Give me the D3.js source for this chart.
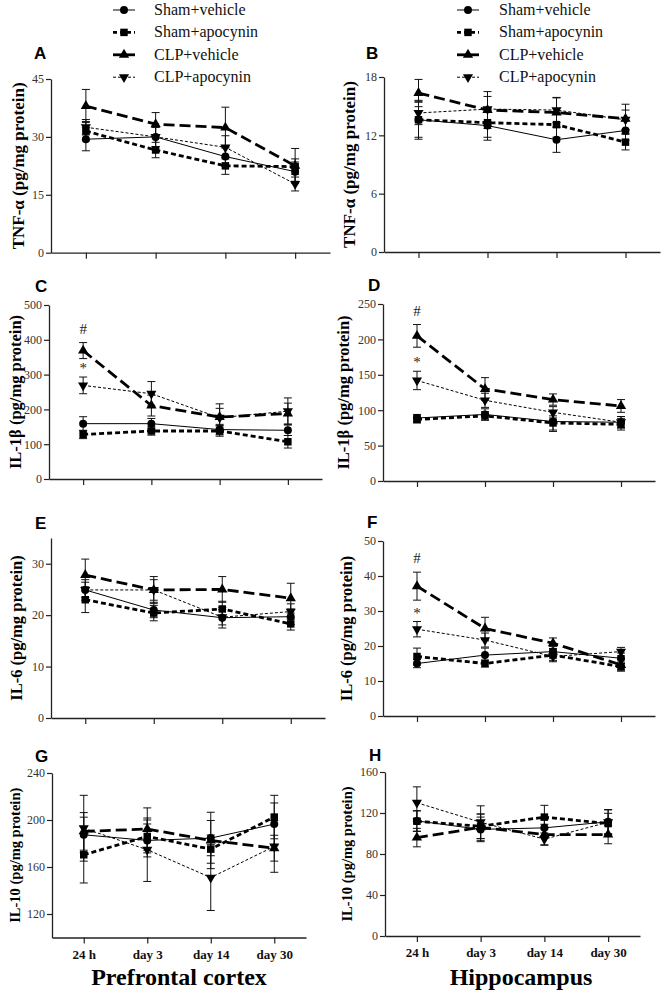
<!DOCTYPE html>
<html>
<head>
<meta charset="utf-8">
<script src="https://cdn.jsdelivr.net/npm/d3@7"></script>
<style>
body { margin: 0; background: #fff; }
svg { display: block; font-family: "Liberation Serif", "Times New Roman", serif; }
</style>
</head>
<body>
<div id="chart"></div>
<script>
// groups and time points
var groups = ["Sham+vehicle", "Sham+apocynin", "CLP+vehicle", "CLP+apocynin"];
var timepoints = ["24 h", "day 3", "day 14", "day 30"];

// A  TNF-a prefrontal cortex
var tnfPfcMean = [[29.4, 30, 24.9, 21], [31.5, 26.6, 22.5, 22.3], [38, 33.3, 32.4, 22.5], [32.5, 30, 27.3, 17.8]];
var tnfPfcErr  = [[3, 2.5, 2.5, 2.5], [2.5, 2, 2.2, 2], [4.3, 3, 5.3, 4.5], [2, 2.5, 3, 1.8]];
var tnfPfcTicks = [0, 15, 30, 45];
// B  TNF-a hippocampus
var tnfHipMean = [[13.6, 13, 11.55, 12.5], [13.6, 13.3, 13.1, 11.3], [16.35, 14.6, 14.35, 13.7], [14.3, 14.7, 14.6, 13.6]];
var tnfHipErr  = [[2, 1.5, 1.3, 1], [1.8, 1.5, 1.3, 0.8], [1.4, 1.9, 1.5, 1.5], [1.2, 1.3, 1.3, 1]];
var tnfHipTicks = [0, 6, 12, 18];
// C  IL-1b prefrontal cortex
var il1PfcMean = [[159, 159, 142, 140], [128, 138, 138, 107], [369, 211, 178, 188], [269, 245, 176, 195]];
var il1PfcErr  = [[20, 15, 15, 15], [12, 12, 15, 18], [23, 30, 25, 30], [24, 35, 40, 38]];
var il1PfcTicks = [0, 100, 200, 300, 400, 500];
// D  IL-1b hippocampus
var il1HipMean = [[89, 94, 84, 83], [87, 92, 82, 80], [205, 130, 115, 106], [142, 114, 97, 83]];
var il1HipErr  = [[5, 8, 14, 8], [5, 6, 10, 8], [16, 16, 8, 9], [13, 10, 8, 8]];
var il1HipTicks = [0, 50, 100, 150, 200, 250];
// E  IL-6 prefrontal cortex
var il6PfcMean = [[24.9, 21, 19.5, 19.7], [23, 20.4, 21.2, 18.3], [27.8, 24.9, 25, 23.3], [24.9, 24.9, 19.6, 20.7]];
var il6PfcErr  = [[2, 1.5, 2, 1.5], [2.5, 1.5, 1.5, 1.2], [3.1, 2.6, 2.5, 2.9], [1.5, 2, 1.5, 1.5]];
var il6PfcTicks = [0, 10, 20, 30];
// F  IL-6 hippocampus
var il6HipMean = [[15, 17.4, 18.4, 16.5], [17, 15, 17.4, 14.1], [37.1, 25, 20.8, 14.6], [24.8, 21.7, 17, 18.4]];
var il6HipErr  = [[1.2, 2, 1.5, 1.5], [2.4, 1, 1.5, 1.3], [4, 3.2, 1.5, 1.5], [2.2, 2, 1.5, 1.2]];
var il6HipTicks = [0, 10, 20, 30, 40, 50];
// G  IL-10 prefrontal cortex
var il10PfcMean = [[187.4, 182.6, 184.6, 196.5], [170.4, 186, 175.2, 202.5], [190.3, 192.3, 182.6, 176], [193, 174.7, 151, 177.5]];
var il10PfcErr  = [[15, 14, 15, 18], [24, 14, 12, 18.5], [16, 18, 24, 11], [28, 27, 28, 22]];
var il10PfcTicks = [120, 160, 200, 240];
// H  IL-10 hippocampus
var il10HipMean = [[112.3, 104, 105.5, 111.4], [112, 107, 116, 109.7], [96, 106, 99, 99], [130, 111, 94.5, 111]];
var il10HipErr  = [[10, 12, 8, 12], [10, 12, 11.5, 10], [9, 13, 10, 9], [15.5, 16, 6, 12]];
var il10HipTicks = [0, 40, 80, 120, 160];

var width = 665, height = 992;
var serif = "\"Liberation Serif\", \"Times New Roman\", serif";
var sans = "\"Liberation Sans\", Arial, sans-serif";

// line styles per group
var styles = [
    { width: 1, dash: null, symbol: d3.symbolCircle, size: 50, rot: 0 },
    { width: 2.8, dash: "5,3", symbol: d3.symbolSquare, size: 56, rot: 0 },
    { width: 2.8, dash: "11,5", symbol: d3.symbolTriangle, size: 46, rot: 0 },
    { width: 1, dash: "3,2", symbol: d3.symbolTriangle, size: 44, rot: 180 }
];

var panels = [
    { letter: "A", title: "TNF-\u03b1 (pg/mg protein)", mean: tnfPfcMean, err: tnfPfcErr, ticks: tnfPfcTicks, dom: [0, 45],
      x0: 51, x1: 330, yTop: 79, yBot: 252.7, lx: 34, ly: 59, tx: 24, ts: 17 },
    { letter: "B", title: "TNF-\u03b1 (pg/mg protein)", mean: tnfHipMean, err: tnfHipErr, ticks: tnfHipTicks, dom: [0, 18],
      x0: 384, x1: 660, yTop: 77, yBot: 252, lx: 366, ly: 59, tx: 355, ts: 17 },
    { letter: "C", title: "IL-1\u03b2 (pg/mg protein)", mean: il1PfcMean, err: il1PfcErr, ticks: il1PfcTicks, dom: [0, 500],
      x0: 49, x1: 322, yTop: 305, yBot: 479, lx: 35, ly: 292, tx: 21, ts: 16.5, marks: true },
    { letter: "D", title: "IL-1\u03b2 (pg/mg protein)", mean: il1HipMean, err: il1HipErr, ticks: il1HipTicks, dom: [0, 250],
      x0: 383, x1: 655, yTop: 304, yBot: 481, lx: 368, ly: 291, tx: 349, ts: 16.5, marks: true },
    { letter: "E", title: "IL-6 (pg/mg protein)", mean: il6PfcMean, err: il6PfcErr, ticks: il6PfcTicks, dom: [0, 35],
      x0: 51, x1: 325, yTop: 538, yBot: 718, lx: 35, ly: 529, tx: 22, ts: 16.5 },
    { letter: "F", title: "IL-6 (pg/mg protein)", mean: il6HipMean, err: il6HipErr, ticks: il6HipTicks, dom: [0, 50],
      x0: 383, x1: 655, yTop: 541, yBot: 716, lx: 367, ly: 528, tx: 352, ts: 16.5, marks: true },
    { letter: "G", title: "IL-10 (pg/mg protein)", mean: il10PfcMean, err: il10PfcErr, ticks: il10PfcTicks, dom: [100, 240],
      x0: 52, x1: 306, yTop: 773, yBot: 937.5, lx: 35, ly: 762, tx: 20, ts: 14.5, xlabels: true },
    { letter: "H", title: "IL-10 (pg/mg protein)", mean: il10HipMean, err: il10HipErr, ticks: il10HipTicks, dom: [0, 160],
      x0: 385, x1: 640, yTop: 772, yBot: 936, lx: 369, ly: 761, tx: 352, ts: 14.5, xlabels: true }
];

var svg = d3.select("#chart")
    .append("svg")
    .attr("width", width)
    .attr("height", height)
    .style("background", "#fff");

function symbolPath(i) {
    return d3.symbol().type(styles[i].symbol).size(styles[i].size)();
}

panels.forEach(function(p) {
    var g = svg.append("g");

    var x_scale = d3.scalePoint()
        .domain(timepoints)
        .range([p.x0, p.x1])
        .padding(0.5);

    var y_scale = d3.scaleLinear()
        .domain(p.dom)
        .range([p.yBot, p.yTop]);

    // y axis
    var yAxis = g.append("g")
        .attr("transform", "translate(" + p.x0 + ",0)")
        .call(d3.axisLeft(y_scale).tickValues(p.ticks).tickSize(5).tickSizeOuter(0).tickPadding(2));
    yAxis.attr("font-family", null);
    yAxis.select(".domain").attr("stroke", "#222").attr("stroke-width", 1.3);
    yAxis.selectAll(".tick line").attr("stroke", "#222").attr("stroke-width", 1.2);
    yAxis.selectAll("text")
        .style("font-family", serif)
        .style("font-size", "12px")
        .attr("fill", "#333");

    // x axis
    var xAxis = g.append("g")
        .attr("transform", "translate(0," + p.yBot + ")")
        .call(d3.axisBottom(x_scale).tickSize(6).tickSizeOuter(0).tickPadding(6));
    xAxis.attr("font-family", null);
    xAxis.select(".domain").attr("stroke", "#222").attr("stroke-width", 1.3);
    xAxis.selectAll(".tick line").attr("stroke", "#222").attr("stroke-width", 1.2);
    if (p.xlabels) {
        xAxis.selectAll("text")
            .style("font-family", serif)
            .style("font-weight", "bold")
            .style("font-size", "13px")
            .attr("fill", "#111");
    } else {
        xAxis.selectAll("text").remove();
    }

    // panel letter
    g.append("text")
        .attr("x", p.lx)
        .attr("y", p.ly)
        .style("font-family", sans)
        .style("font-weight", "bold")
        .style("font-size", "17px")
        .text(p.letter);

    // y title
    g.append("text")
        .attr("transform", "translate(" + p.tx + "," + ((p.yTop + p.yBot) / 2) + ") rotate(-90)")
        .attr("text-anchor", "middle")
        .style("font-family", serif)
        .style("font-weight", "bold")
        .style("font-size", p.ts + "px")
        .text(p.title);

    // error bars
    groups.forEach(function(name, gi) {
        var pts = timepoints.map(function(t, ti) {
            return { t: t, v: p.mean[gi][ti], e: p.err[gi][ti] };
        });
        var eb = g.append("g").attr("stroke", "#111").attr("stroke-width", 1);
        eb.selectAll("line.v")
            .data(pts)
            .enter()
            .append("line")
            .attr("x1", function(d) { return x_scale(d.t); })
            .attr("x2", function(d) { return x_scale(d.t); })
            .attr("y1", function(d) { return y_scale(d.v - d.e); })
            .attr("y2", function(d) { return y_scale(d.v + d.e); });
        [-1, 1].forEach(function(s) {
            eb.selectAll("line.c" + s)
                .data(pts)
                .enter()
                .append("line")
                .attr("x1", function(d) { return x_scale(d.t) - 4; })
                .attr("x2", function(d) { return x_scale(d.t) + 4; })
                .attr("y1", function(d) { return y_scale(d.v + s * d.e); })
                .attr("y2", function(d) { return y_scale(d.v + s * d.e); });
        });
    });

    // lines
    var line = d3.line()
        .x(function(d, i) { return x_scale(timepoints[i]); })
        .y(function(d) { return y_scale(d); });

    groups.forEach(function(name, gi) {
        g.append("path")
            .datum(p.mean[gi])
            .attr("d", line)
            .attr("fill", "none")
            .attr("stroke", "#000")
            .attr("stroke-width", styles[gi].width)
            .attr("stroke-dasharray", styles[gi].dash);
    });

    // markers
    groups.forEach(function(name, gi) {
        g.selectAll(null)
            .data(p.mean[gi])
            .enter()
            .append("path")
            .attr("d", symbolPath(gi))
            .attr("transform", function(d, i) {
                return "translate(" + x_scale(timepoints[i]) + "," + y_scale(d) + ") rotate(" + styles[gi].rot + ")";
            })
            .attr("fill", "#000");
    });

    // significance marks at 24 h
    if (p.marks) {
        var t0 = timepoints[0];
        g.append("text")
            .attr("x", x_scale(t0))
            .attr("y", y_scale(p.mean[2][0] + p.err[2][0]) - 9)
            .attr("text-anchor", "middle")
            .style("font-family", serif)
            .style("font-size", "15px")
            .attr("fill", "#222")
            .text("#");
        g.append("text")
            .attr("x", x_scale(t0))
            .attr("y", y_scale(p.mean[3][0] + p.err[3][0]) - 4)
            .attr("text-anchor", "middle")
            .style("font-family", serif)
            .style("font-size", "15px")
            .attr("fill", "#222")
            .text("*");
    }
});

// legends
[{ mx: 124, tx: 154 }, { mx: 468, tx: 499 }].forEach(function(L) {
    var lg = svg.append("g");
    groups.forEach(function(name, gi) {
        var yy = 10 + gi * 22.4;
        lg.append("line")
            .attr("x1", L.mx - 11)
            .attr("x2", L.mx + 11)
            .attr("y1", yy)
            .attr("y2", yy)
            .attr("stroke", "#000")
            .attr("stroke-width", styles[gi].width)
            .attr("stroke-dasharray", gi === 1 ? "4,3" : (gi === 3 ? "3,2" : null));
        lg.append("path")
            .attr("d", symbolPath(gi))
            .attr("transform", "translate(" + L.mx + "," + yy + ") rotate(" + styles[gi].rot + ")")
            .attr("fill", "#000");
        lg.append("text")
            .attr("x", L.tx)
            .attr("y", yy + 5)
            .style("font-family", serif)
            .style("font-size", "16px")
            .attr("fill", "#111")
            .text(name);
    });
});

// region titles
svg.append("text")
    .attr("x", 179)
    .attr("y", 985)
    .attr("text-anchor", "middle")
    .style("font-family", serif)
    .style("font-weight", "bold")
    .style("font-size", "24px")
    .text("Prefrontal cortex");
svg.append("text")
    .attr("x", 521)
    .attr("y", 985)
    .attr("text-anchor", "middle")
    .style("font-family", serif)
    .style("font-weight", "bold")
    .style("font-size", "24px")
    .text("Hippocampus");
</script>
</body>
</html>
